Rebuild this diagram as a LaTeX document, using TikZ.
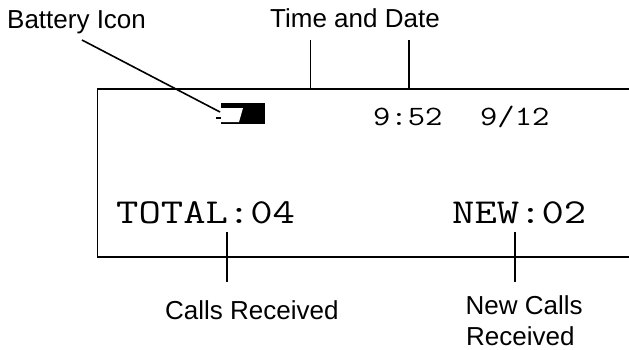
\documentclass[tikz,border=0pt]{standalone}
\usepackage{graphicx}
\usepackage{fontspec}
\setmainfont{Liberation Sans}
\newcommand{\lcdtext}[3]{\scalebox{#3}[1]{\fontsize{#1}{#1}\selectfont\ttfamily #2}}
\tikzset{
  lab/.style={inner sep=0pt,anchor=base west,font=\fontsize{26}{31}\selectfont,align=left},
  lcd/.style={inner sep=0pt,anchor=base west},
  ln/.style={line width=1.6pt,black}
}
\begin{document}
\begin{tikzpicture}[x=1pt,y=-1pt]
\useasboundingbox (0,0) rectangle (629,349);
\node[lab] (batt) at (7,28) {Battery Icon};
\node[lab] (td) at (270,27) {Time and Date};
\node[lab] (cr) at (165,319) {Calls Received};
\node[lab] (ncr) at (465.5,314) {New Calls};
\node[lab] (ncr2) at (466,345) {Received};
\draw[ln] (629,89) -- (97.5,89) -- (97.5,257) -- (629,257);
\coordinate (t1) at (310.5,89);
\coordinate (t1u) at (310.5,40);
\coordinate (t2) at (409,89);
\coordinate (t2u) at (409,40);
\draw[ln] (t1u) -- (t1);
\draw[ln] (t2u) -- (t2);
\coordinate (b1u) at (227,232);
\coordinate (b1d) at (227,282);
\coordinate (b2u) at (515,232);
\coordinate (b2d) at (515,282);
\draw[ln] (b1u) -- (b1d);
\draw[ln] (b2u) -- (b2d);
\coordinate (bi) at (220,112);
\coordinate (bs) at (82,40);
\draw[ln] (bs) -- (bi);
% battery icon
\fill[black] (221,103) rectangle (265,124);
\fill[white] (221,108) -- (243,108) -- (239,122) -- (221,122) -- cycle;
\fill[black] (216,117) rectangle (221,119);
\node[lcd] (tm) at (373,125) {\lcdtext{28}{9:52}{1.2}};
\node[lcd] (dt) at (480,125) {\lcdtext{28}{9/12}{1.2}};
\node[lcd] (tot) at (116,223) {\lcdtext{35}{TOTAL:04}{1.24}};
\node[lcd] (nw) at (452,223) {\lcdtext{35}{NEW:02}{1.24}};
\end{tikzpicture}
\end{document}
